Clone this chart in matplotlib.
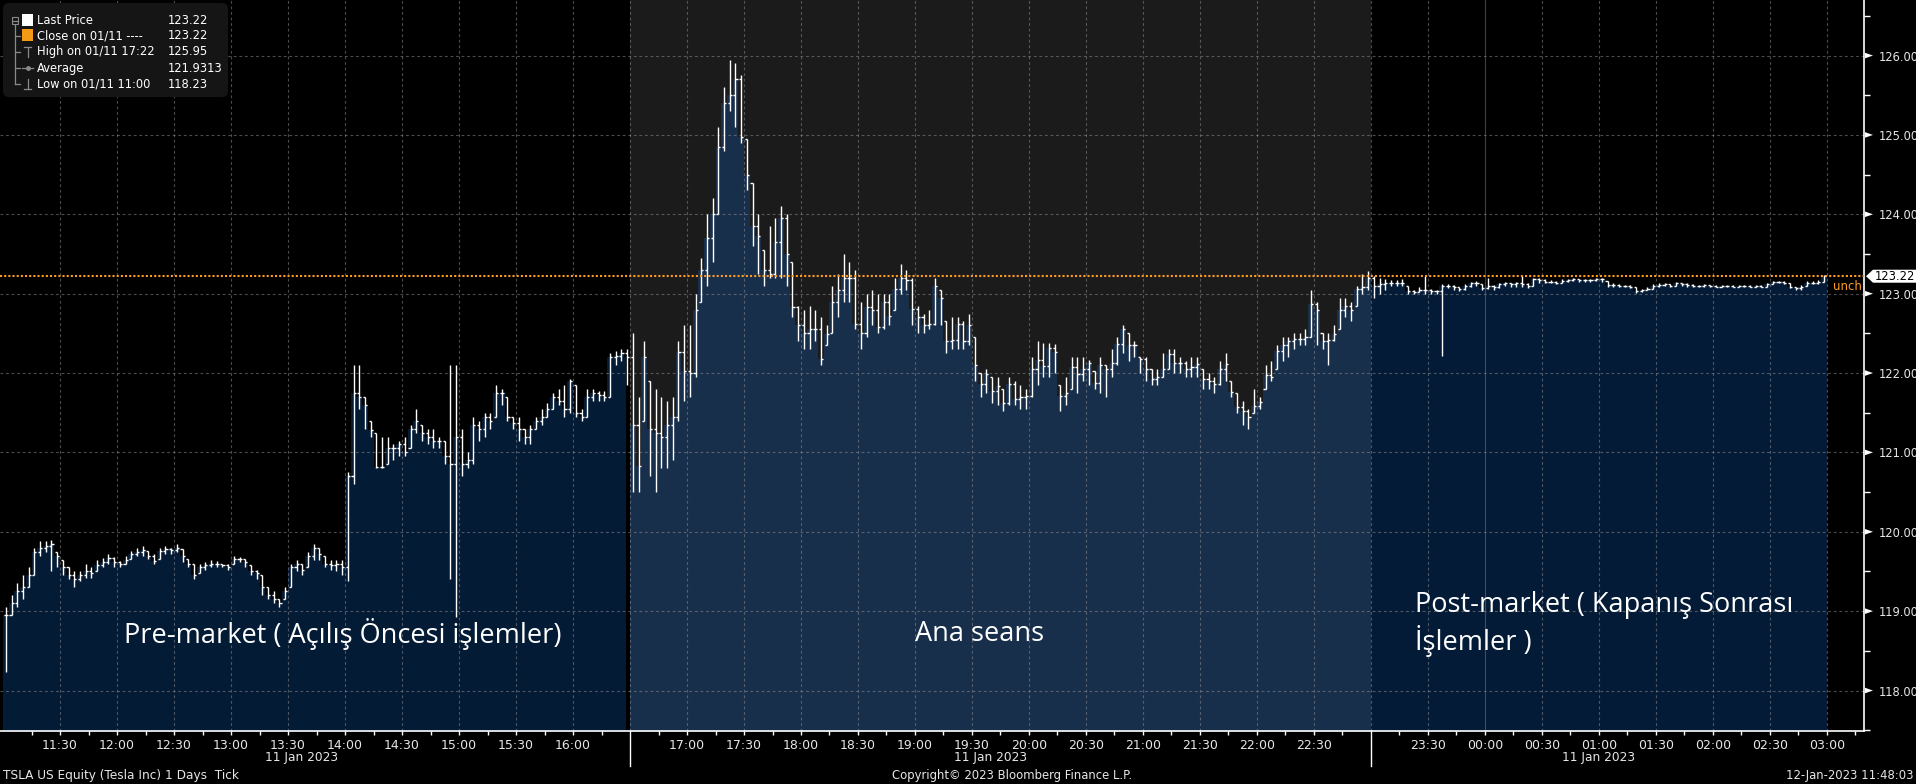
import matplotlib
matplotlib.use("Agg")
import matplotlib.pyplot as plt
import matplotlib.transforms as mtransforms
from matplotlib.collections import LineCollection
from matplotlib.patches import FancyBboxPatch, Polygon, Rectangle
import numpy as np

# ---------------- data ----------------
BAR_MIN = 3
session_starts = ["11:00", "16:30", "23:00"]
session_end = "03:00"
session_labels = ["Pre-market ( Açılış Öncesi işlemler)", "Ana seans",
                  "Post-market ( Kapanış Sonrası\nİşlemler )"]

pre_close = [118.95,119.10,119.25,119.30,119.45,119.75,119.80,119.82,119.85,119.70,
             119.55,119.45,119.40,119.45,119.50,119.48,119.58,119.62,119.67,119.62,
             119.60,119.65,119.72,119.75,119.77,119.70,119.63,119.76,119.78,119.77,
             119.80,119.70,119.60,119.45,119.55,119.58,119.60,119.60,119.58,119.56,
             119.66,119.66,119.62,119.50,119.48,119.30,119.20,119.15,119.10,119.25,
             119.55,119.60,119.52,119.70,119.80,119.72,119.60,119.58,119.60,119.55,
             120.70,121.75,121.70,121.60,121.28,120.82,120.82,121.05,121.05,121.10,
             121.00,121.30,121.40,121.25,121.20,121.15,121.15,120.95,120.85,121.20,
             120.85,120.90,121.35,121.30,121.45,121.40,121.75,121.75,121.45,121.37,
             121.30,121.20,121.30,121.40,121.45,121.55,121.70,121.65,121.55,121.90,
             121.50,121.45,121.70,121.75,121.72,121.70,122.20,122.22,122.25,122.20]
pre_high = [119.05,119.20,119.35,119.45,119.55,119.80,119.88,119.88,119.90,119.75,
            119.65,119.55,119.50,119.50,119.60,119.55,119.65,119.67,119.72,119.68,
            119.63,119.70,119.76,119.80,119.82,119.76,119.72,119.80,119.82,119.80,
            119.84,119.78,119.66,119.60,119.60,119.62,119.64,119.63,119.60,119.60,
            119.70,119.68,119.66,119.58,119.52,119.45,119.30,119.25,119.15,119.30,
            119.60,119.65,119.60,119.75,119.85,119.80,119.70,119.65,119.65,119.65,
            120.75,122.10,122.10,121.70,121.40,121.25,121.20,121.20,121.10,121.15,
            121.20,121.35,121.55,121.35,121.30,121.30,121.20,121.15,122.10,122.10,
            121.30,121.00,121.45,121.40,121.50,121.50,121.85,121.80,121.70,121.45,
            121.45,121.30,121.35,121.45,121.55,121.62,121.75,121.80,121.85,121.93,
            121.85,121.55,121.80,121.80,121.78,121.78,122.25,122.28,122.30,122.30]
pre_low = [118.23,118.95,119.05,119.15,119.30,119.45,119.70,119.75,119.50,119.55,
           119.45,119.40,119.30,119.38,119.42,119.42,119.50,119.55,119.60,119.55,
           119.56,119.60,119.66,119.70,119.70,119.66,119.60,119.66,119.72,119.72,
           119.75,119.62,119.55,119.40,119.48,119.52,119.55,119.56,119.55,119.52,
           119.60,119.62,119.55,119.45,119.40,119.20,119.15,119.10,119.05,119.15,
           119.30,119.50,119.45,119.55,119.65,119.65,119.55,119.52,119.50,119.45,
           119.38,120.60,121.55,121.30,121.20,120.80,120.80,120.85,120.90,120.95,
           120.95,121.05,121.25,121.15,121.10,121.05,121.05,120.85,119.40,118.93,
           120.70,120.80,120.85,121.15,121.20,121.30,121.45,121.60,121.40,121.30,
           121.15,121.10,121.10,121.30,121.35,121.45,121.55,121.60,121.45,121.50,
           121.45,121.40,121.45,121.65,121.65,121.65,121.70,122.10,122.15,121.85]

main_close = [121.35,120.83,122.20,121.30,121.25,121.20,121.35,121.45,122.26,122.03,
              122.00,122.80,123.30,123.70,124.00,124.85,125.40,125.50,125.70,124.98,
              124.50,123.85,123.73,123.30,123.25,123.65,123.95,123.50,122.83,122.60,
              122.50,122.55,122.56,122.18,122.49,122.90,123.05,123.20,123.20,122.62,
              122.50,122.83,122.80,122.58,122.89,122.72,123.06,123.20,123.17,122.81,
              122.70,122.60,122.62,123.10,122.95,122.40,122.41,122.62,122.40,122.60,
              122.10,121.86,121.99,121.78,121.84,121.62,121.86,121.67,121.70,121.71,
              122.05,122.16,122.09,122.32,122.26,121.71,121.75,122.07,121.99,122.05,
              122.13,121.88,122.10,122.05,122.13,122.37,122.55,122.35,122.35,122.18,
              122.05,121.92,121.95,122.05,122.24,122.13,122.13,122.05,122.07,122.11,
              121.92,121.90,121.86,122.05,122.11,121.76,121.57,121.52,121.44,121.59,
              121.63,121.98,121.95,122.28,122.35,122.40,122.43,122.43,122.45,122.87,
              122.79,122.40,122.41,122.49,122.79,122.85,122.80,123.06,123.08,123.20]
main_high = [122.50,121.70,122.40,121.90,121.80,121.70,121.65,121.70,122.40,122.60,
             122.60,123.00,123.45,124.00,124.20,125.10,125.60,125.95,125.90,125.75,
             124.95,124.40,124.00,123.55,123.85,123.95,124.10,124.00,123.40,122.85,
             122.80,122.85,122.80,122.70,122.60,123.10,123.25,123.50,123.40,123.30,
             122.90,123.00,123.05,123.00,123.00,123.00,123.20,123.38,123.30,123.20,
             122.85,122.75,122.80,123.20,123.05,122.65,122.70,122.70,122.65,122.75,
             122.45,122.00,122.05,121.95,121.95,121.80,121.95,121.90,121.85,121.80,
             122.20,122.40,122.38,122.38,122.37,121.85,121.95,122.20,122.20,122.20,
             122.17,122.02,122.20,122.10,122.30,122.45,122.60,122.50,122.40,122.20,
             122.20,122.05,122.05,122.25,122.30,122.30,122.20,122.15,122.20,122.20,
             122.05,122.00,121.95,122.15,122.25,121.90,121.75,121.65,121.55,121.80,
             121.70,122.10,122.15,122.35,122.45,122.45,122.50,122.50,122.55,123.05,
             122.90,122.50,122.50,122.60,122.95,122.95,122.90,123.10,123.25,123.28]
main_low = [120.50,120.50,121.40,120.70,120.50,120.80,120.80,120.90,121.40,121.65,
            121.70,121.95,122.90,123.10,123.40,124.00,124.80,125.30,125.10,124.90,
            124.30,123.60,123.25,123.10,123.20,123.20,123.20,123.10,122.70,122.40,
            122.30,122.30,122.40,122.10,122.35,122.50,122.70,122.90,122.90,122.55,
            122.30,122.45,122.60,122.50,122.55,122.60,122.80,123.00,123.05,122.60,
            122.50,122.50,122.55,122.60,122.60,122.25,122.30,122.30,122.30,122.35,
            121.90,121.70,121.75,121.62,121.60,121.52,121.60,121.60,121.55,121.55,
            121.70,121.85,121.95,121.95,122.00,121.52,121.60,121.80,121.75,121.90,
            121.85,121.80,121.75,121.70,121.95,122.10,122.25,122.15,122.20,122.00,
            121.90,121.85,121.85,121.95,122.05,122.00,122.00,121.95,121.95,121.95,
            121.80,121.80,121.75,121.85,121.90,121.70,121.50,121.35,121.30,121.50,
            121.55,121.80,121.90,122.05,122.15,122.20,122.30,122.35,122.35,122.45,
            122.35,122.30,122.10,122.40,122.55,122.70,122.65,122.85,123.00,123.05]

post_close = [123.10,123.12,123.14,123.14,123.13,123.14,123.03,123.02,123.05,123.05,
              123.03,123.03,123.10,123.10,123.08,123.06,123.10,123.13,123.14,123.07,
              123.10,123.08,123.12,123.13,123.12,123.13,123.12,123.10,123.18,123.17,
              123.15,123.15,123.14,123.16,123.17,123.18,123.17,123.17,123.17,123.18,
              123.18,123.11,123.11,123.10,123.10,123.09,123.03,123.04,123.06,123.10,
              123.11,123.12,123.10,123.13,123.12,123.11,123.10,123.10,123.11,123.10,
              123.09,123.10,123.10,123.09,123.10,123.10,123.09,123.10,123.09,123.12,
              123.15,123.15,123.14,123.09,123.07,123.09,123.14,123.14,123.15,123.22]
post_high = [123.22,123.20,123.18,123.17,123.17,123.18,123.10,123.05,123.08,123.22,
             123.06,123.05,123.12,123.12,123.11,123.09,123.12,123.15,123.16,123.12,
             123.20,123.11,123.14,123.15,123.14,123.15,123.22,123.13,123.20,123.20,
             123.18,123.17,123.16,123.18,123.19,123.20,123.19,123.19,123.19,123.20,
             123.20,123.16,123.13,123.12,123.11,123.11,123.08,123.06,123.08,123.12,
             123.13,123.14,123.12,123.15,123.14,123.13,123.12,123.11,123.12,123.11,
             123.11,123.11,123.11,123.11,123.11,123.11,123.11,123.11,123.11,123.13,
             123.16,123.16,123.16,123.13,123.09,123.11,123.16,123.16,123.17,123.23]
post_low = [122.95,123.00,123.05,123.10,123.10,123.10,123.00,123.00,123.02,123.00,
            122.99,123.00,122.21,123.07,123.05,123.03,123.05,123.08,123.10,123.04,
            123.06,123.05,123.07,123.10,123.09,123.09,123.08,123.07,123.10,123.14,
            123.13,123.13,123.12,123.14,123.15,123.16,123.15,123.15,123.15,123.16,
            123.15,123.08,123.08,123.08,123.08,123.07,123.01,123.02,123.04,123.06,
            123.09,123.10,123.08,123.10,123.10,123.09,123.08,123.08,123.09,123.08,
            123.08,123.08,123.08,123.08,123.08,123.08,123.08,123.08,123.08,123.09,
            123.12,123.13,123.12,123.07,123.05,123.05,123.10,123.12,123.12,123.15]

last_price = 123.22
legend_rows = [("Last Price", "123.22"), ("Close on 01/11 ----", "123.22"),
               ("High on 01/11 17:22", "125.95"), ("Average", "121.9313"),
               ("Low on 01/11 11:00", "118.23")]
y_ticks = [118, 119, 120, 121, 122, 123, 124, 125, 126]
x_labels = ["11:30", "12:00", "12:30", "13:00", "13:30", "14:00", "14:30", "15:00",
            "15:30", "16:00", "17:00", "17:30", "18:00", "18:30", "19:00", "19:30",
            "20:00", "20:30", "21:00", "21:30", "22:00", "22:30", "23:30", "00:00",
            "00:30", "01:00", "01:30", "02:00", "02:30", "03:00"]
date_label = "11 Jan 2023"
footer_left = "TSLA US Equity (Tesla Inc) 1 Days  Tick"
footer_mid = "Copyright\u00a9 2023 Bloomberg Finance L.P."
footer_right = "12-Jan-2023 11:48:03"

# ---------------- helpers ----------------
def tmin(s):
    h, m = map(int, s.split(":"))
    v = (h - 11) * 60 + m
    if v < 0:
        v += 24 * 60
    return v

W, H = 1916, 784
def fx(px):
    return px / W
def fy(py):
    return 1 - py / H

FG = "#e6e6e6"
GRID = "#8c8c8c"
ORANGE = "#ff9a1f"

fig = plt.figure(figsize=(W / 100, H / 100), dpi=100, facecolor="black")
ax = fig.add_axes([0, 53 / H, 1864 / W, 731 / H])
ax.set_facecolor("black")
ax.set_xlim(-1.6, 979.5)
ax.set_ylim(117.49, 126.70)

starts = [tmin(s) for s in session_starts]
end = tmin(session_end)
bounds = starts + [end]

# main session background
ax.axvspan(starts[1], starts[2], color="#1b1b1b", zorder=0, lw=0)

sessions = [(pre_close, pre_high, pre_low, "#041b36"),
            (main_close, main_high, main_low, "#182f4c"),
            (post_close, post_high, post_low, "#041b37")]

prev_close = None
segs = []
for k, (c, hi, lo, col) in enumerate(sessions):
    c = np.array(c); hi = np.array(hi); lo = np.array(lo)
    n = len(c)
    t0 = bounds[k]
    edges = t0 + BAR_MIN * np.arange(n + 1)
    yfill = np.append(c, c[-1])
    fill_right = edges.copy()
    if k == 0:
        fill_right[-1] -= 2
    ax.fill_between(fill_right, yfill, 117.0, step="post", color=col, lw=0, zorder=1)
    for i in range(n):
        xc = t0 + BAR_MIN * (i + 0.5)
        o = c[i - 1] if i > 0 else (prev_close if prev_close is not None else c[0])
        o = min(max(o, lo[i]), hi[i])
        segs.append([(xc, lo[i]), (xc, hi[i])])
        segs.append([(xc - 1.1, o), (xc, o)])
        segs.append([(xc, c[i]), (xc + 1.1, c[i])])
    prev_close = c[-1]

# grid
for y in y_ticks:
    ax.axhline(y, color=GRID, alpha=0.55, lw=0.8, ls=(0, (2.5, 2.5)), zorder=2)
for t in range(30, 961, 30):
    if t == tmin("00:00"):
        ax.axvline(t, color=GRID, alpha=0.45, lw=0.8, zorder=2)
    else:
        ax.axvline(t, color=GRID, alpha=0.55, lw=0.8, ls=(0, (2.5, 2.5)), zorder=2)

ax.add_collection(LineCollection(segs, colors="white", linewidths=1.0, zorder=4))

# last price line
ax.axhline(last_price, color=ORANGE, lw=1.5, ls=(0, (1, 1)), zorder=5)
ax.text(1833 / 1864 * (979.5 + 1.6) - 1.6, last_price - 0.05, "unch", color=ORANGE,
        fontsize=8.5, va="top", ha="left", zorder=6)

# session texts
tf = dict(color="white", fontsize=19.5, family=["Open Sans", "DejaVu Sans"])
fig.text(fx(343), fy(634), session_labels[0], ha="center", va="center", **tf)
fig.text(fx(980), fy(634), session_labels[1], ha="center", va="center", **tf)
fig.text(fx(1415), fy(624), session_labels[2], ha="left", va="center",
         linespacing=1.25, **tf)

# spines
for s in ["top", "left"]:
    ax.spines[s].set_visible(False)
ax.spines["right"].set_color("white")
ax.spines["right"].set_linewidth(1.2)
ax.spines["bottom"].set_color("white")
ax.spines["bottom"].set_linewidth(1.2)

# y axis right
ax.yaxis.tick_right()
ax.set_yticks(y_ticks)
ax.set_yticklabels([f"{v:.2f}" for v in y_ticks])
ax.set_yticks([v + 0.5 for v in y_ticks[:-1]] + [117.5, 126.5], minor=True)
ax.tick_params(axis="y", which="major", length=0, pad=11, labelcolor=FG, labelsize=8.3)
ax.tick_params(axis="y", which="minor", length=4, width=1, color="white", direction="out")
btr = mtransforms.blended_transform_factory(fig.transFigure, ax.transData)
for v in y_ticks:
    tri = Polygon([(fx(1865), v + 0.035), (fx(1873), v), (fx(1865), v - 0.035)],
                  closed=True, fc="white", ec="none", transform=btr, clip_on=False)
    fig.add_artist(tri)

# last price tag
d = 6.5 / 79.37
tag = Polygon([(fx(1866), last_price), (fx(1873), last_price + d), (fx(1916), last_price + d),
               (fx(1916), last_price - d), (fx(1873), last_price - d)], closed=True,
              fc="white", ec="none", transform=btr, clip_on=False, zorder=10)
fig.add_artist(tag)
fig.text(fx(1875), 0, "123.22", transform=btr, color="black", fontsize=8.3,
         va="center", ha="left", zorder=11).set_y(last_price)

# x axis
all_ticks = [t for t in range(15, 976, 15) if t not in (starts[1], starts[2])]
ax.set_xticks(all_ticks)
lab_map = {tmin(s): s for s in x_labels}
ax.set_xticklabels([lab_map.get(t, "") for t in all_ticks])
ax.tick_params(axis="x", which="major", length=3, width=1, color="white",
               labelcolor=FG, labelsize=9, pad=3)
bx = mtransforms.blended_transform_factory(ax.transData, fig.transFigure)
for t in (starts[1], starts[2]):
    ax.plot([t, t], [fy(731), fy(766)], color="white", lw=1.0, transform=bx, clip_on=False)

date_x = [157, 520, 840]
for t in date_x:
    ax.text(t, fy(758), date_label, transform=bx, color=FG, fontsize=8.8,
            ha="center", va="center")

fig.text(fx(3), fy(776), footer_left, color=FG, fontsize=8.7, ha="left", va="center")
fig.text(fx(1012), fy(776), footer_mid, color=FG, fontsize=8.4, ha="center", va="center")
fig.text(fx(1913), fy(776), footer_right, color=FG, fontsize=8.4, ha="right", va="center")

# legend box
box = FancyBboxPatch((fx(3), fy(97)), fx(225), (94) / H,
                     boxstyle="round,pad=0,rounding_size=0.003", mutation_aspect=W / H,
                     fc="#151515", ec="none", transform=fig.transFigure, zorder=20)
fig.add_artist(box)
rows_y = [20.7, 35.7, 51.7, 68.3, 84.3]
LG = "#8a8a8a"
def fline(x1, y1, x2, y2, c=LG, lw=0.9):
    fig.add_artist(plt.Line2D([fx(x1), fx(x2)], [fy(y1), fy(y2)], color=c, lw=lw,
                              transform=fig.transFigure, zorder=21))
# tree
fline(14.5, 25, 14.5, 84.3)
for ry in rows_y[1:]:
    fline(14.5, ry, 20, ry)
fig.add_artist(Rectangle((fx(11.5), fy(23.5)), fx(6), 6 / H, fill=False, ec=LG, lw=0.8,
                         transform=fig.transFigure, zorder=21))
fline(12.5, 20.5, 16.5, 20.5)
fig.add_artist(Rectangle((fx(21.7), fy(25.5)), fx(11), 11 / H, fc="white", ec="none",
                         transform=fig.transFigure, zorder=21))
fig.add_artist(Rectangle((fx(21.7), fy(40.5)), fx(11), 11 / H, fc="#f59a14", ec="none",
                         transform=fig.transFigure, zorder=21))
fline(27.5, 47, 27.5, 57); fline(24, 47, 31, 47)
fline(22, 68.3, 33, 68.3); fig.add_artist(plt.Line2D([fx(27.5)], [fy(68.3)], marker="o",
                                                    ms=2.5, color=LG, transform=fig.transFigure,
                                                    zorder=21))
fline(27.5, 79, 27.5, 89); fline(24, 89, 31, 89)
for (lab, val), ry in zip(legend_rows, rows_y):
    fig.text(fx(37), fy(ry), lab, color="white", fontsize=8.3, va="center", ha="left", zorder=22)
    fig.text(fx(168), fy(ry), val, color="white", fontsize=8.3, va="center", ha="left", zorder=22)

fig.savefig("out.png", dpi=100, facecolor="black")
